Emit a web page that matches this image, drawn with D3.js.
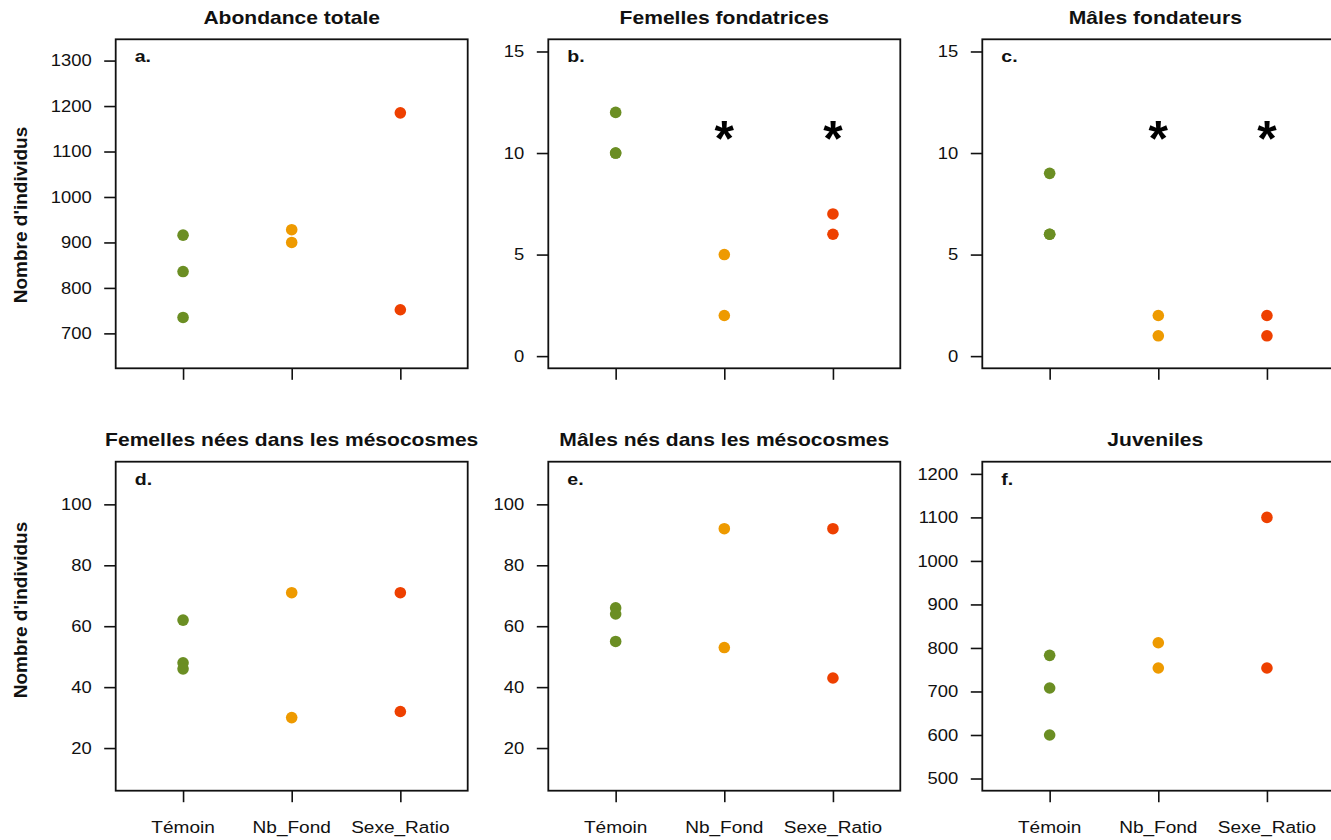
<!DOCTYPE html>
<html><head><meta charset="utf-8">
<script src="https://cdn.jsdelivr.net/npm/d3@7"></script>
<style>
body{margin:0;background:#fff}
svg{display:block}
text{font-family:"Liberation Sans",Arial,sans-serif;fill:#111}
</style>
</head><body>
<svg id="chart" width="1331" height="840"></svg>
<script>
// ---------- data ----------
const categories = ["Témoin", "Nb_Fond", "Sexe_Ratio"];
const groupColors = ["#6B8E23", "#EE9A00", "#EE4000"];
const panelTitles = ["Abondance totale", "Femelles fondatrices", "Mâles fondateurs",
  "Femelles nées dans les mésocosmes", "Mâles nés dans les mésocosmes", "Juveniles"];
const panelLetters = ["a.", "b.", "c.", "d.", "e.", "f."];

const abondanceTotale     = [[916, 836, 735], [928, 900], [1185, 752]];
const femellesFondatrices = [[12, 10, 10], [5, 2], [7, 6]];
const malesFondateurs     = [[9, 6, 6], [2, 1], [2, 1]];
const femellesNees        = [[62, 48, 46], [71, 30], [71, 32]];
const malesNes            = [[66, 64, 55], [92, 53], [92, 43]];
const juveniles           = [[783, 708, 600], [812, 754], [1100, 754]];

const ticksAbondance = [700, 800, 900, 1000, 1100, 1200, 1300];
const ticksFondateurs = [0, 5, 10, 15];
const ticksNes = [20, 40, 60, 80, 100];
const ticksJuveniles = [500, 600, 700, 800, 900, 1000, 1100, 1200];

const limsAbondance = [650, 1320];
const limsFondateurs = [0, 15];
const limsNes = [10, 110];
const limsJuveniles = [500, 1200];

const starValue = 11;
const starsFemellesFond = [false, true, true];
const starsMalesFond = [false, true, true];
const noStars = [false, false, false];

const yLabel = "Nombre d'individus";

const panels = [
  {values: abondanceTotale, ticks: ticksAbondance, lims: limsAbondance, stars: noStars},
  {values: femellesFondatrices, ticks: ticksFondateurs, lims: limsFondateurs, stars: starsFemellesFond},
  {values: malesFondateurs, ticks: ticksFondateurs, lims: limsFondateurs, stars: starsMalesFond},
  {values: femellesNees, ticks: ticksNes, lims: limsNes, stars: noStars},
  {values: malesNes, ticks: ticksNes, lims: limsNes, stars: noStars},
  {values: juveniles, ticks: ticksJuveniles, lims: limsJuveniles, stars: noStars}
];

// ---------- layout ----------
const colLeft = [115.7, 548.3, 982.3];
const rowTop = [39.3, 461.7];
const boxW = 352, boxH = 329;
const svg = d3.select("#chart");

function stretchText(g, x, y, str, sx) {
  return g.append("text").attr("transform", `translate(${x},${y}) scale(${sx},1)`).text(str);
}

panels.forEach((p, i) => {
  const col = i % 3, row = Math.floor(i / 3);
  const L = colLeft[col], T = rowTop[row];
  const g = svg.append("g");

  const ext = (p.lims[1] - p.lims[0]) * 0.04;
  const y = d3.scaleLinear().domain([p.lims[0] - ext, p.lims[1] + ext]).range([T + boxH, T]);
  const x = d3.scaleLinear().domain([0.38, 3.62]).range([L, L + boxW]);

  // y axis
  const yAxis = d3.axisLeft(y).tickValues(p.ticks).tickSize(11.5).tickPadding(0).tickFormat(() => "");
  const ya = g.append("g").attr("transform", `translate(${L},0)`).call(yAxis);
  ya.select(".domain").remove();
  ya.selectAll(".tick line").attr("stroke", "#111").attr("stroke-width", 1.6);
  p.ticks.forEach(t => {
    stretchText(g, L - 24, y(t), String(t), 1.15)
      .attr("text-anchor", "end").attr("dy", "0.36em").style("font-size", "16px");
  });

  // x axis
  const xAxis = d3.axisBottom(x).tickValues([1, 2, 3]).tickSize(11.5).tickFormat(() => "");
  const xa = g.append("g").attr("transform", `translate(0,${T + boxH})`).call(xAxis);
  xa.select(".domain").remove();
  xa.selectAll(".tick line").attr("stroke", "#111").attr("stroke-width", 1.6);
  if (row === 1) {
    categories.forEach((c, k) => {
      stretchText(g, x(k + 1), T + boxH + 42, c, 1.19)
        .attr("text-anchor", "middle").style("font-size", "16px");
    });
  }

  // box
  g.append("rect").attr("x", L).attr("y", T).attr("width", boxW).attr("height", boxH)
    .attr("fill", "none").attr("stroke", "#111").attr("stroke-width", 1.8);

  // title
  stretchText(g, L + boxW / 2 - (col === 2 ? 3 : 0), T - 15.8, panelTitles[i], 1.17)
    .attr("text-anchor", "middle").style("font-size", "18px").style("font-weight", "bold");

  // letter
  stretchText(g, L + 19, T + 23, panelLetters[i], 1.15)
    .style("font-size", "17px").style("font-weight", "bold");

  // points
  p.values.forEach((vals, k) => {
    g.selectAll(null).data(vals).enter().append("circle")
      .attr("cx", x(k + 1)).attr("cy", d => y(d)).attr("r", 5.8)
      .attr("fill", groupColors[k]);
  });

  // stars
  p.stars.forEach((s, k) => {
    if (!s) return;
    g.append("text").attr("x", x(k + 1)).attr("y", y(starValue)).attr("dy", "0.46em")
      .attr("text-anchor", "middle").style("font-size", "50px").style("font-weight", "bold")
      .style("fill", "#000").text("*");
  });
});

// y labels
[215, 610].forEach(cy => {
  svg.append("text").attr("transform", `translate(26.5,${cy}) rotate(-90)`)
    .attr("text-anchor", "middle").style("font-size", "19px").style("font-weight", "bold")
    .text(yLabel);
});
</script>
</body></html>
